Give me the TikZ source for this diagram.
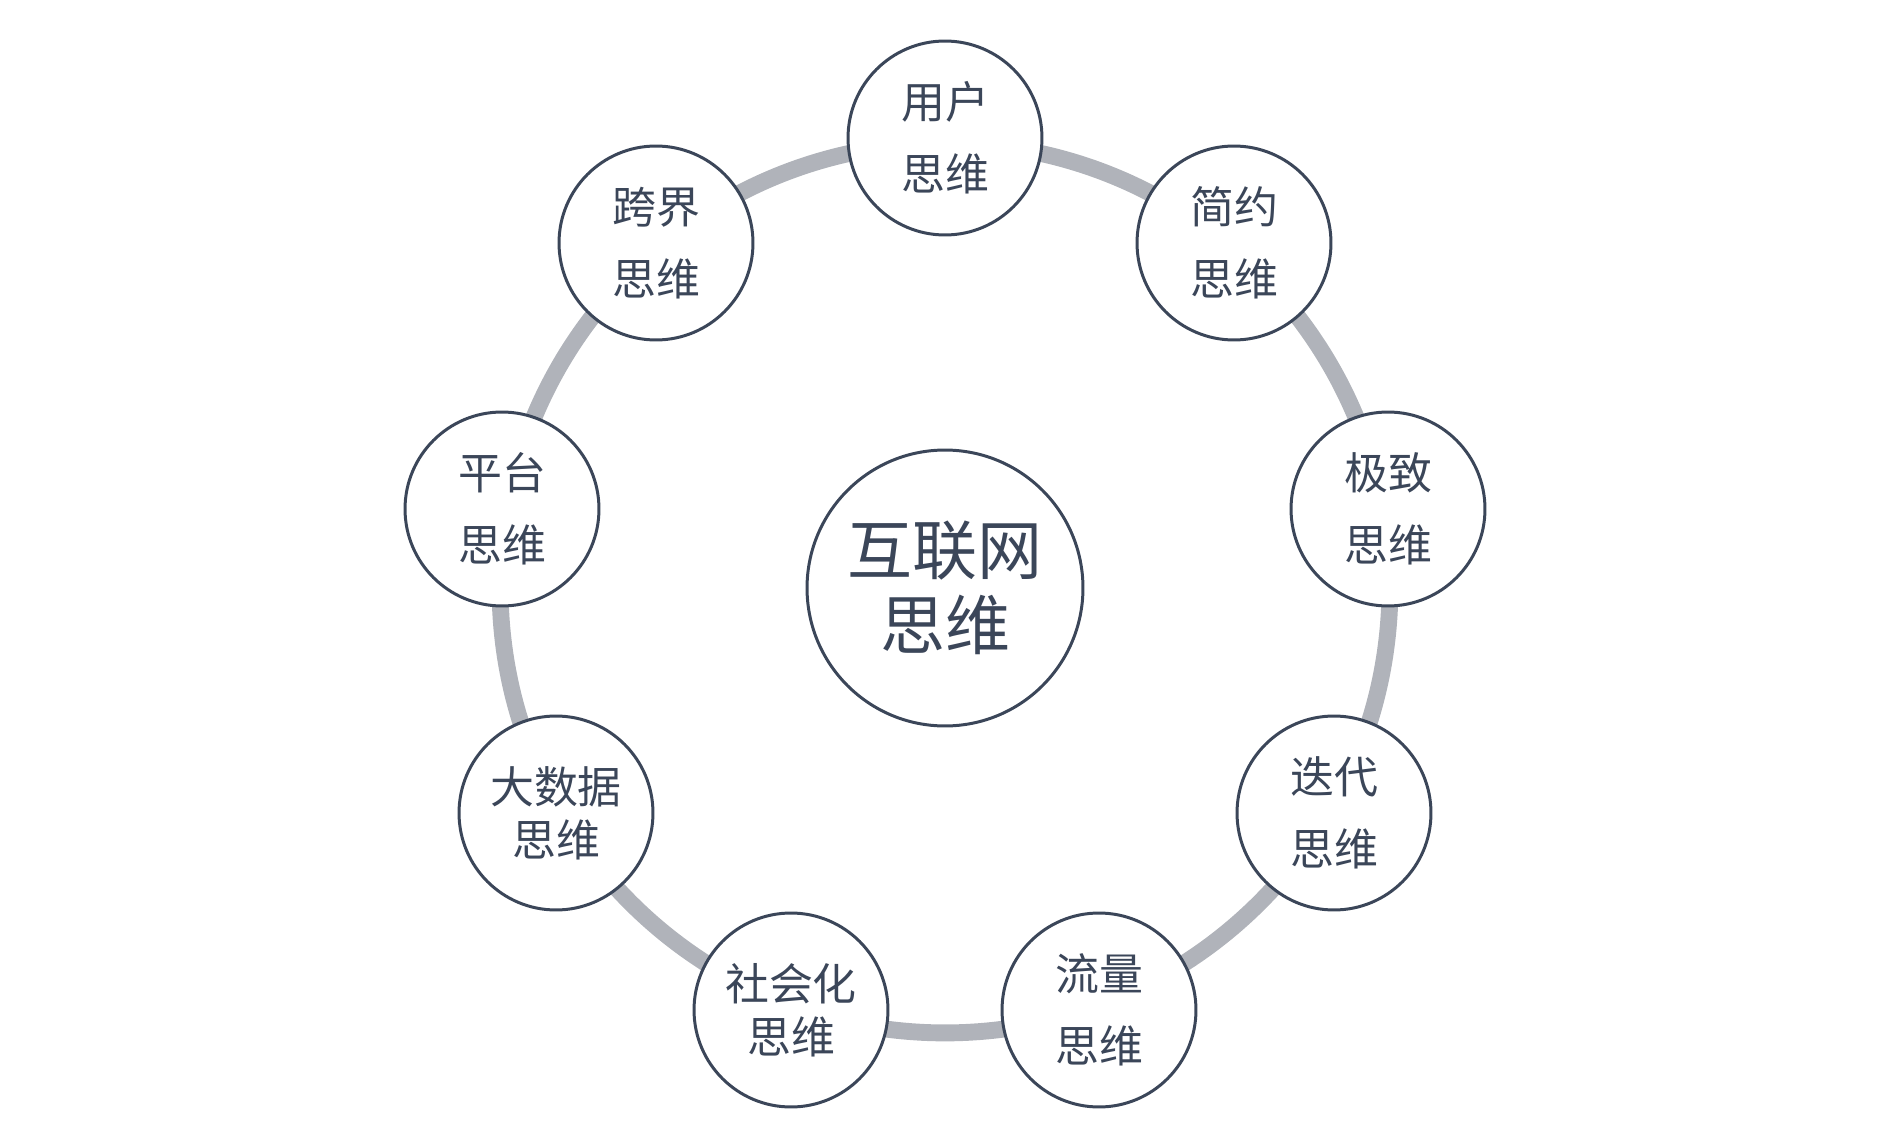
\documentclass[tikz,border=0pt]{standalone}
\usepackage{fontspec}
\newfontfamily\cjk{Noto Sans CJK SC}
\usetikzlibrary{positioning}
\definecolor{inkblue}{HTML}{3B4659}
\definecolor{ringgray}{HTML}{B0B3BA}
\tikzset{
	idea/.style={circle, draw=inkblue, line width=1.7pt, fill=white, minimum size=3.88cm,
		inner sep=0pt, text=inkblue, align=center, font=\cjk\fontsize{25}{41}\selectfont},
	tight/.style={font=\cjk\fontsize{25}{30}\selectfont},
	hub/.style={idea, minimum size=5.52cm, font=\cjk\fontsize{37}{43}\selectfont},
}
\begin{document}
\begin{tikzpicture}[x=0.02cm, y=-0.02cm]
	\useasboundingbox (0,0) rectangle (1887,1142);
	
	% centre of the diagram
	\coordinate (C) at (945,588);
	
	% the ring behind the circles
	\draw[ringgray, line width=9.6pt] (C) circle (8.9cm);
	
	\node[hub] (Hub) at (C) {互联网\\思维};
	
	\node[idea] (User)     at (945,138)  {用户\\思维};
	\node[idea] (Simple)   at (1234,243) {简约\\思维};
	\node[idea] (Extreme)  at (1388,509) {极致\\思维};
	\node[idea] (Iterate)  at (1334,813) {迭代\\思维};
	\node[idea] (Traffic)  at (1099,1010) {流量\\思维};
	\node[idea, tight] (Social)  at (791,1010) {社会化\\思维};
	\node[idea, tight] (BigData) at (556,813)  {大数据\\思维};
	\node[idea] (Platform) at (502,509)  {平台\\思维};
	\node[idea] (Cross)    at (656,243)  {跨界\\思维};
	
\end{tikzpicture}
\end{document}
